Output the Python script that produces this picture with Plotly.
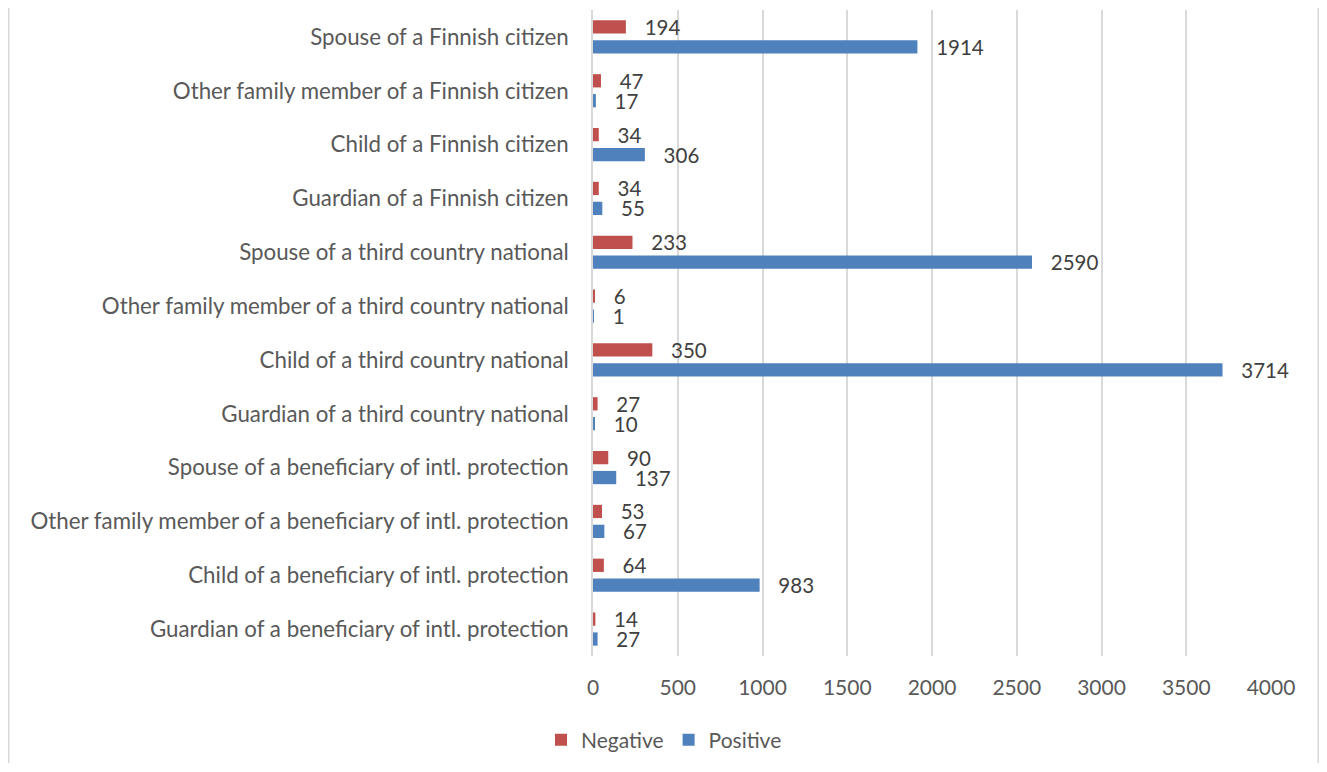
import plotly.graph_objects as go

categories = [
    "Spouse of a Finnish citizen",
    "Other family member of a Finnish citizen",
    "Child of a Finnish citizen",
    "Guardian of a Finnish citizen",
    "Spouse of a third country national",
    "Other family member of a third country national",
    "Child of a third country national",
    "Guardian of a third country national",
    "Spouse of a beneficiary of intl. protection",
    "Other family member of a beneficiary of intl. protection",
    "Child of a beneficiary of intl. protection",
    "Guardian of a beneficiary of intl. protection",
]
negative = [194, 47, 34, 34, 233, 6, 350, 27, 90, 53, 64, 14]
positive = [1914, 17, 306, 55, 2590, 1, 3714, 10, 137, 67, 983, 27]
x_ticks = [0, 500, 1000, 1500, 2000, 2500, 3000, 3500, 4000]

FONT = "Lato"
pad = "\u00a0\u00a0\u00a0"

fig = go.Figure()
for name, vals, color in (("Negative", negative, "#C0504D"),
                          ("Positive", positive, "#4F81BD")):
    fig.add_trace(go.Bar(
        y=categories, x=vals, name=name, orientation="h",
        marker=dict(color=color, line=dict(width=0)),
        text=[pad + str(v) for v in vals], textposition="outside",
        constraintext="none",
        textfont=dict(family=FONT, size=20.5, color="#404040"),
        cliponaxis=False,
    ))

# page body has an 8px margin: work in figure coordinates shifted by 8px
OFF = 8
W, H = 1327 - 2 * OFF, 772 - 2 * OFF - 1
L, T = 593 - OFF, 10 - OFF
R = W - (1271 - OFF)
B = H - (656 - OFF)
pw = W - L - R
ph = H - T - B

def px_x(px):
    return (px - OFF - L) / pw

def px_y(py):
    return (ph - (py - OFF - T)) / ph

shapes = []
for bx in (8.5, 1318.5):
    shapes.append(dict(type="line", xref="paper", yref="paper",
                       x0=px_x(bx), x1=px_x(bx), y0=-0.5, y1=1.5,
                       line=dict(color="#D9D9D9", width=2), layer="below"))

fig.update_layout(
    width=W, height=H,
    margin=dict(l=L, r=R, t=T, b=B),
    paper_bgcolor="white", plot_bgcolor="white",
    barmode="group", bargap=0.26, bargroupgap=0.333,
    font=dict(family=FONT, size=21, color="#595959"),
    showlegend=True,
    legend=dict(orientation="h", x=px_x(664), y=px_y(740),
                xanchor="center", yanchor="middle",
                font=dict(family=FONT, size=21, color="#595959"),
                itemwidth=30, tracegroupgap=0),
    xaxis=dict(range=[0, 4000], tickvals=x_ticks, showgrid=True,
               gridcolor="#D9D9D9", gridwidth=1.5, zeroline=False,
               showline=False, ticks="", ticklabelstandoff=17,
               tickfont=dict(family=FONT, size=21, color="#595959")),
    yaxis=dict(autorange="reversed", showgrid=False, zeroline=False,
               showline=True, linecolor="#D9D9D9", linewidth=1.5,
               ticks="", ticklabelstandoff=18,
               tickfont=dict(family=FONT, size=22.3, color="#595959")),
    shapes=shapes,
)

fig.write_html("out.html")
